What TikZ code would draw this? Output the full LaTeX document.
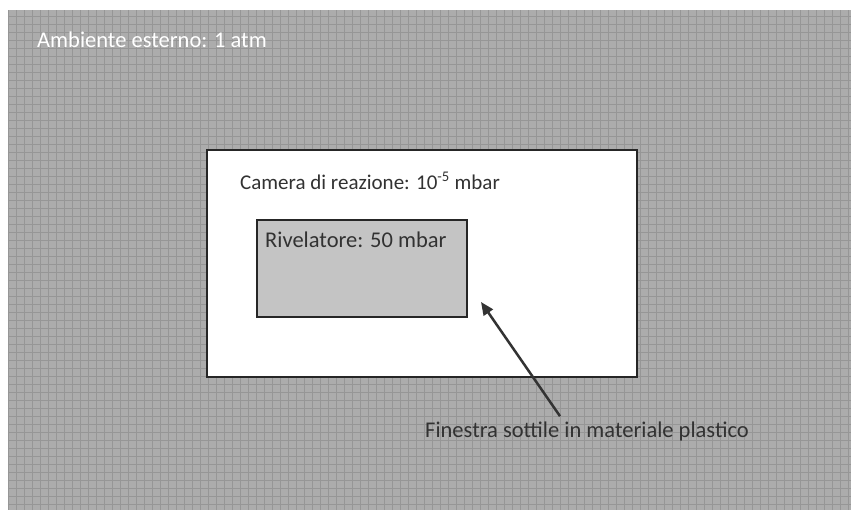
\documentclass[tikz,border=0pt]{standalone}
\usepackage{fontspec}
\setmainfont{Carlito}
\usetikzlibrary{arrows.meta,positioning}
\definecolor{fondogrigio}{RGB}{172,172,172}
\definecolor{grigliagrigio}{RGB}{150,150,150}
\definecolor{rivelgrigio}{RGB}{196,196,196}
\definecolor{testoscuro}{RGB}{50,50,50}

\begin{document}
\begin{tikzpicture}[x=1pt,y=-1pt,
        font=\fontsize{22.5}{27}\selectfont,
        ambiente/.style={fill=fondogrigio,minimum width=843pt,minimum height=500pt,inner sep=0pt},
        camera/.style={draw=black!85,line width=2pt,fill=white,minimum width=430pt,minimum height=227pt,inner sep=0pt},
        rivelatore/.style={draw=black!85,line width=2pt,fill=rivelgrigio,minimum width=210pt,minimum height=97pt,inner sep=0pt},
        etichetta/.style={anchor=west,inner sep=0pt,text=testoscuro},
        freccia/.style={-{Triangle[length=13pt,width=11pt]},line width=2.5pt,draw=black!80}
    ]

        \useasboundingbox[fill=white] (0,0) rectangle (851,510);

        \node[ambiente] (esterno) at (429.5,260) {};
        \draw[grigliagrigio,line width=0.5pt,step=8pt] (esterno.south west) grid (esterno.north east);

        \node[camera] (camera) at (422,263.5) {};
        \node[rivelatore] (rivelatore) at (362,268.5) {};

        \node[etichetta,text=white] (testoesterno) at (37,40) {Ambiente esterno: 1 atm};
        \node[etichetta,font=\fontsize{21}{25}\selectfont] (testocamera) at (240,181) {Camera di reazione: 10\textsuperscript{-5} mbar};
        \node[etichetta] (testorivelatore) at (265,240) {Rivelatore: 50 mbar};
        \node[etichetta] (finestra) at (425,432) {Finestra sottile in materiale plastico};

        \coordinate (puntofinestra) at (481,302);
        \draw[freccia] (finestra.north -| 560,0) ++(0,-6) -- (puntofinestra);
    \end{tikzpicture}
\end{document}
